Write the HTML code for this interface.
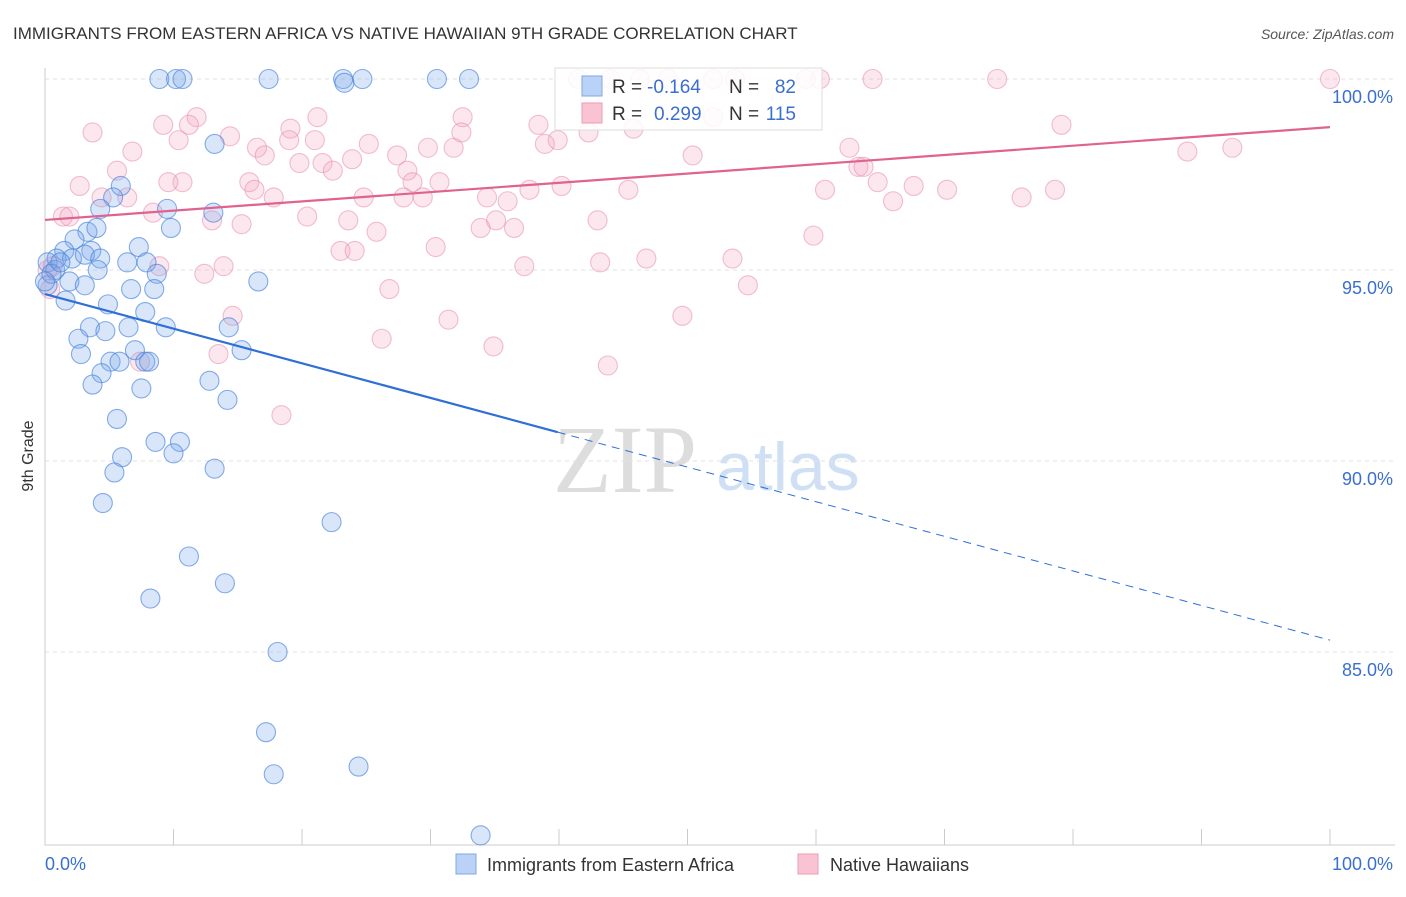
<!DOCTYPE html>
<html><head><meta charset="utf-8"><style>
body{margin:0;background:#fff;font-family:"Liberation Sans",sans-serif}
svg text{font-family:"Liberation Sans",sans-serif}
</style></head><body>
<svg id="c" width="1406" height="892" xmlns="http://www.w3.org/2000/svg">
<text x="13" y="39" font-size="17" fill="#333">IMMIGRANTS FROM EASTERN AFRICA VS NATIVE HAWAIIAN 9TH GRADE CORRELATION CHART</text>
<text x="1394" y="39" font-size="14" fill="#555" font-style="italic" text-anchor="end">Source: ZipAtlas.com</text>
<text transform="translate(33,456) rotate(-90)" font-size="16" fill="#333" text-anchor="middle">9th Grade</text>
<g>
<text x="553" y="492" font-size="96" fill="#ddd" style="font-family:'Liberation Serif',serif">ZIP</text>
<text x="716" y="490" font-size="68" fill="#cfe0f5">atlas</text>
</g>
<g id="grid"></g><g id="pts"></g><g id="lines"></g>
<g>
<rect x="555" y="68" width="267" height="62" fill="#fff" fill-opacity="0.85" stroke="#ddd"/>
<rect x="582" y="76" width="20" height="20" fill="#b9d2f5" stroke="#7ea8e6"/>
<rect x="582" y="103" width="20" height="20" fill="#f9c3d3" stroke="#ec9cb6"/>
<text x="612" y="93" font-size="19" fill="#333">R =</text>
<text x="647" y="93" font-size="19" fill="#3a6fd0">-0.164</text>
<text x="729" y="93" font-size="19" fill="#333">N =</text>
<text x="796" y="93" font-size="19" fill="#3a6fd0" text-anchor="end">82</text>
<text x="612" y="120" font-size="19" fill="#333">R =</text>
<text x="654" y="120" font-size="19" fill="#3a6fd0">0.299</text>
<text x="729" y="120" font-size="19" fill="#333">N =</text>
<text x="796" y="120" font-size="19" fill="#3a6fd0" text-anchor="end">115</text>
</g>
<g>
<rect x="456" y="854" width="20" height="20" fill="#b9d2f5" stroke="#7ea8e6"/>
<text x="487" y="871" font-size="18" fill="#333">Immigrants from Eastern Africa</text>
<rect x="798" y="854" width="20" height="20" fill="#f9c3d3" stroke="#ec9cb6"/>
<text x="830" y="871" font-size="18" fill="#333">Native Hawaiians</text>
</g>
</svg>
<script>
const blueX=[8.9,10.2,10.7,17.4,23.2,23.3,24.7,30.5,33.0,13.2,5.9,5.3,4.3,9.5,13.1,3.3,4.0,9.8,2.3,3.6,1.5,7.3,0.9,0.2,2.1,3.1,4.3,6.4,7.9,0.8,4.1,8.7,16.6,1.9,3.1,6.7,8.5,0.2,1.6,4.9,7.8,9.4,3.5,4.7,6.5,14.3,2.6,2.8,7.0,15.3,5.1,5.8,7.8,8.1,4.4,3.7,7.5,12.8,14.2,5.6,8.6,10.5,10.0,6.0,5.4,13.2,4.5,22.3,11.2,14.0,8.2,18.1,17.2,17.8,24.4,33.9,0.5,1.2,0];
const blueY=[100,100,100,100,100,99.9,100,100,100,98.3,97.2,96.9,96.6,96.6,96.5,96.0,96.1,96.1,95.8,95.5,95.5,95.6,95.3,95.2,95.3,95.4,95.3,95.2,95.2,95.0,95.0,94.9,94.7,94.7,94.6,94.5,94.5,94.6,94.2,94.1,93.9,93.5,93.5,93.4,93.5,93.5,93.2,92.8,92.9,92.9,92.6,92.6,92.6,92.6,92.3,92.0,91.9,92.1,91.6,91.1,90.5,90.5,90.2,90.1,89.7,89.8,88.9,88.4,87.5,86.8,86.4,85.0,82.9,81.8,82.0,80.2,94.9,95.2,94.7];
const pinkX=[3.7,6.8,9.2,10.4,11.8,11.2,5.6,2.7,4.4,6.4,1.4,1.9,8.4,10.7,9.6,13.0,12.4,13.9,8.9,14.6,13.5,7.4,18.4,15.3,14.4,15.9,16.5,17.1,16.3,17.8,19.1,19.0,19.8,20.4,21.2,21.0,21.6,22.4,23.9,25.2,23.6,23.0,24.1,24.8,25.8,26.8,26.2,27.4,28.2,28.6,29.4,27.9,29.8,30.7,30.4,31.8,32.5,32.4,31.4,33.9,34.4,35.1,36.0,36.5,34.9,37.3,38.4,38.9,39.9,37.7,40.2,43.0,42.3,42.4,43.2,43.8,45.4,45.8,46.8,49.6,50.4,52.0,53.5,54.7,59.8,60.7,62.6,63.3,63.7,64.8,66.0,67.6,70.2,74.1,76.0,78.6,79.1,88.9,92.4,100,64.4,60.3,59.2,41.5,44.0,46.3,48.5,52.0,0.4,0.2,0.6,53.7];
const pinkY=[98.6,98.1,98.8,98.4,99.0,98.8,97.6,97.2,96.9,96.9,96.4,96.4,96.5,97.3,97.3,96.3,94.9,95.1,95.1,93.8,92.8,92.6,91.2,96.2,98.5,97.3,98.2,98.0,97.1,96.9,98.7,98.4,97.8,96.4,99.0,98.4,97.8,97.6,97.9,98.3,96.3,95.5,95.5,96.9,96.0,94.5,93.2,98.0,97.6,97.3,96.9,96.9,98.2,97.3,95.6,98.2,99.0,98.6,93.7,96.1,96.9,96.3,96.8,96.1,93.0,95.1,98.8,98.3,98.4,97.1,97.2,96.3,98.6,99.4,95.2,92.5,97.1,98.7,95.3,93.8,98.0,99.0,95.3,94.6,95.9,97.1,98.2,97.7,97.7,97.3,96.8,97.2,97.1,100,96.9,97.1,98.8,98.1,98.2,100,100,100,100,100,100,100,100,100,94.5,95.0,95.1,100];
const blueTrend=[94.37,85.31]; const blueSolidEnd=39.9;
const pinkTrend=[96.31,98.74];
const yTicks=[100,95,90,85];
const xTicks=[0,10,20,30,40,50,60,70,80,90,100];
const NS='http://www.w3.org/2000/svg';
const X=v=>45+v*12.85, Y=v=>79+(100-v)*38.2;
function mk(t,a,p){const e=document.createElementNS(NS,t);for(const k in a)e.setAttribute(k,a[k]);p.appendChild(e);return e;}
const g=document.getElementById('grid');
yTicks.forEach(v=>{
 const l=mk('line',{x1:45,x2:1395,y1:Y(v),y2:Y(v),stroke:'#e2e2e2','stroke-dasharray':'4,4'},g);
 
 
 const t=mk('text',{x:1393,y:Y(v)+24,'font-size':18,fill:'#3a6fd0','text-anchor':'end'},g);
 
 
 t.textContent=v.toFixed(1)+'%';
});
const ax=mk('path',{d:'M45,68V845H1395',stroke:'#ccc',fill:'none'},g);


xTicks.forEach(v=>{
 const l=mk('line',{x1:X(v),x2:X(v),y1:829,y2:845,stroke:'#ccc'},g);
 
 
});
[[0,'0.0%','start',45],[100,'100.0%','end',1393]].forEach(d=>{
 const t=mk('text',{x:d[3],y:870,'font-size':18,fill:'#3a6fd0','text-anchor':d[2]},g);
 
 
 t.textContent=d[1];
});
const p=document.getElementById('pts');
pinkX.forEach((x,i)=>{
 const c=mk('circle',{cx:X(x),cy:Y(pinkY[i]),r:9.5,fill:'rgba(245,160,190,0.25)',stroke:'rgba(230,140,170,0.55)','stroke-width':1.1},p);
 
 
});
blueX.forEach((x,i)=>{
 const c=mk('circle',{cx:X(x),cy:Y(blueY[i]),r:9.5,fill:'rgba(120,165,235,0.28)',stroke:'rgba(70,130,220,0.65)','stroke-width':1.1},p);
 
 
});
const L=document.getElementById('lines');
const bAt=x=>blueTrend[0]+(blueTrend[1]-blueTrend[0])*x/100;
let l1=mk('line',{x1:X(0),y1:Y(bAt(0)),x2:X(blueSolidEnd),y2:Y(bAt(blueSolidEnd)),stroke:'#2f6fd6','stroke-width':2.2},L);


let l2=mk('line',{x1:X(blueSolidEnd),y1:Y(bAt(blueSolidEnd)),x2:X(100),y2:Y(bAt(100)),stroke:'#2f6fd6','stroke-width':1,'stroke-dasharray':'8,6'},L);


let l3=mk('line',{x1:X(0),y1:Y(pinkTrend[0]),x2:X(100),y2:Y(pinkTrend[1]),stroke:'#e0628e','stroke-width':2.2},L);


</script>
</body></html>
